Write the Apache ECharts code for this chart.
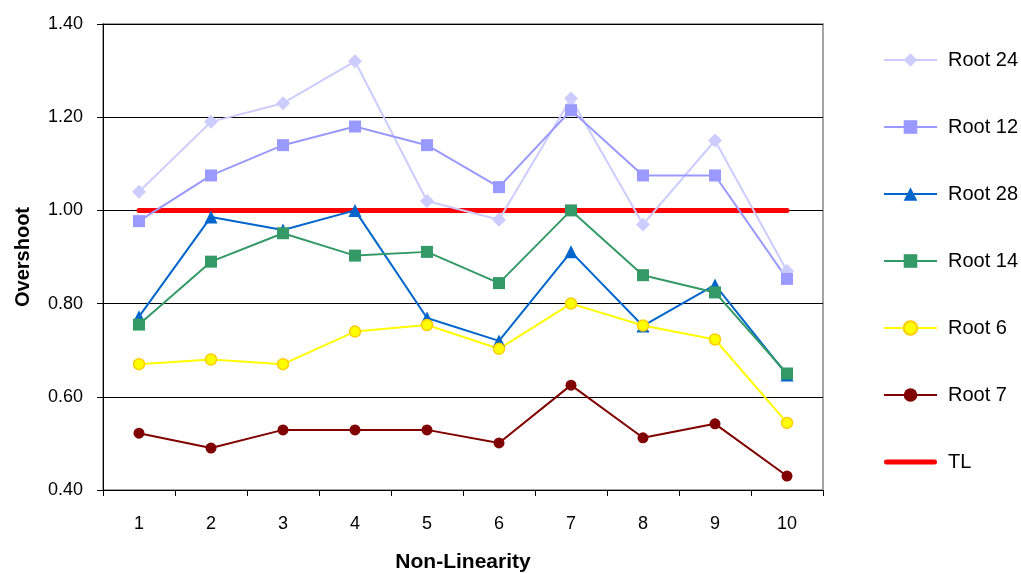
<!DOCTYPE html>
<html><head><meta charset="utf-8">
<script src="https://cdn.jsdelivr.net/npm/echarts@6/dist/echarts.min.js"></script>
<style>html,body{margin:0;padding:0;background:#fff}#c{width:1021px;height:573px}</style>
</head><body><div id="c"></div>
<script>
const categories = ['1','2','3','4','5','6','7','8','9','10'];
const root24 = [1.04,1.19,1.23,1.32,1.02,0.98,1.24,0.97,1.15,0.87];
const root12 = [0.977,1.075,1.14,1.18,1.14,1.05,1.215,1.075,1.075,0.853];
const root28 = [0.772,0.986,0.958,1.00,0.769,0.72,0.911,0.752,0.84,0.647];
const root14 = [0.755,0.89,0.951,0.903,0.911,0.844,1.00,0.861,0.824,0.65];
const root6  = [0.67,0.68,0.67,0.74,0.754,0.703,0.80,0.753,0.723,0.544];
const root7  = [0.522,0.49,0.529,0.529,0.529,0.501,0.625,0.512,0.542,0.43];
const tl     = [1,1,1,1,1,1,1,1,1,1];
const yTicks = ['0.40','0.60','0.80','1.00','1.20','1.40'];

const chart = echarts.init(document.getElementById('c'));
function s(name, data, color, symbol, size, extra) {
  return Object.assign({
    name, type: 'line', data, symbol, symbolSize: size,
    lineStyle: { color, width: 2 },
    itemStyle: { color, borderColor: color, borderWidth: 0 },
    animation: false, z: 3
  }, extra || {});
}
chart.setOption({
  animation: false,
  textStyle: { fontFamily: 'Liberation Sans, Arial, sans-serif' },
  grid: { left: 103, right: 198, top: 24, bottom: 83, show: true, borderColor: '#888', borderWidth: 1.5,
          containLabel: false, outerBoundsMode: 'none' },
  xAxis: {
    type: 'category', data: categories, boundaryGap: true,
    name: 'Non-Linearity', nameLocation: 'middle', nameGap: 62,
    nameTextStyle: { fontSize: 21, fontWeight: 'bold', color: '#000' },
    axisLine: { lineStyle: { color: '#000', width: 1 } },
    axisTick: { show: true, length: 6, lineStyle: { color: '#000' } },
    axisLabel: { fontSize: 18, color: '#000', margin: 25 },
    splitLine: { show: false }
  },
  yAxis: {
    type: 'value', min: 0.4, max: 1.4, interval: 0.2,
    name: 'Overshoot', nameLocation: 'middle', nameGap: 70,
    nameTextStyle: { fontSize: 20, fontWeight: 'bold', color: '#000' },
    axisLine: { show: true, lineStyle: { color: '#000', width: 1 } },
    axisTick: { show: true, length: 6, lineStyle: { color: '#000' } },
    axisLabel: { fontSize: 18, color: '#000', margin: 20, formatter: v => yTicks[Math.round((v - 0.4) / 0.2)] },
    splitLine: { show: true, lineStyle: { color: '#000', width: 1 } }
  },
  legend: {
    orient: 'vertical', left: 883, top: 50, padding: 0, itemGap: 47, itemWidth: 53, itemHeight: 17,
    textStyle: { fontSize: 20, color: '#000', padding: [0, 0, 0, 6] },
    data: ['Root 24','Root 12','Root 28','Root 14','Root 6','Root 7',
      { name: 'TL', icon: 'path://M2.5,0 L50.5,0 A2.5,2.5 0 0 1 50.5,5 L2.5,5 A2.5,2.5 0 0 1 2.5,0 Z' }]
  },
  series: [
    s('Root 24', root24, '#CCCCFF', 'diamond', 14),
    s('Root 12', root12, '#9999FF', 'rect', 12),
    s('Root 28', root28, '#0066CC', 'triangle', 13),
    s('Root 14', root14, '#339966', 'rect', 12),
    Object.assign(s('Root 6', root6, '#FFFF00', 'circle', 11), { itemStyle: { color: '#FFFF00', borderColor: '#FFCC00', borderWidth: 1.5 } }),
    s('Root 7', root7, '#800000', 'circle', 11),
    { name: 'TL', type: 'line', data: tl, symbol: 'none', lineStyle: { color: '#FF0000', width: 5, cap: 'round' }, itemStyle: { color: '#FF0000' }, z: 2 }
  ]
});
</script></body></html>
